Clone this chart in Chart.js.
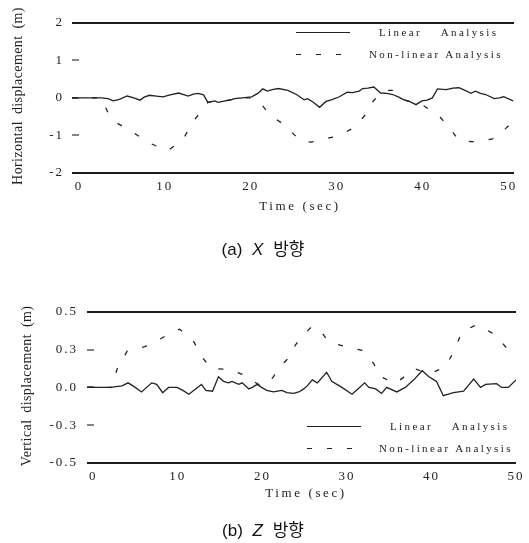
<!DOCTYPE html>
<html lang="ko">
<head>
  <meta charset="UTF-8">
  <title>Displacement</title>
  <script src="https://cdn.jsdelivr.net/npm/chart.js"></script>
  <style>
    body { margin: 0; background: #fff; }
    #wrap { position: relative; width: 529px; height: 543px; color: #222; font-family: 'Liberation Serif', serif; }
    .box { position: absolute; left: 0; width: 529px; }
    .ytitle { position: absolute; font-size: 14px; white-space: nowrap; transform: translate(-50%, -50%) rotate(-90deg); letter-spacing: 0.4px; word-spacing: 3px; }
    .xtitle { position: absolute; font-size: 13px; white-space: nowrap; transform: translate(-50%, -50%); letter-spacing: 2.6px; }
    .leg { position: absolute; font-size: 11px; white-space: nowrap; letter-spacing: 2.4px; transform: translateY(-50%); }
    .solid { position: absolute; height: 0; border-top: 1.4px solid #222; }
    .dash { position: absolute; height: 1.4px; background: repeating-linear-gradient(to right, #222 0 5px, transparent 5px 20px); }
    .cap { position: absolute; left: 263px; transform: translate(-50%, -50%); font-family: 'Liberation Sans', 'Noto Sans CJK KR', sans-serif; font-size: 17px; white-space: nowrap; word-spacing: 5px; color: #111; }
  </style>
</head>
<body>
  <div id="wrap">
    <div class="box" style="top:0;height:220px"><canvas id="chartX"></canvas></div>
    <div class="box" style="top:288px;height:222px"><canvas id="chartZ"></canvas></div>

    <div class="ytitle" style="left:18px;top:96px">Horizontal displacement (m)</div>
    <div class="xtitle" style="left:300px;top:206px">Time (sec)</div>
    <div class="ytitle" style="left:27px;top:386px">Vertical displacement (m)</div>
    <div class="xtitle" style="left:306px;top:493px">Time (sec)</div>

    <div class="solid" style="left:296px;top:32px;width:54px"></div>
    <div class="leg" style="left:379px;top:32px;word-spacing:14px">Linear Analysis</div>
    <div class="dash" style="left:296px;top:54px;width:50px"></div>
    <div class="leg" style="left:369px;top:54px">Non-linear Analysis</div>

    <div class="solid" style="left:307px;top:426px;width:54px"></div>
    <div class="leg" style="left:390px;top:426px;word-spacing:14px">Linear Analysis</div>
    <div class="dash" style="left:307px;top:448px;width:50px"></div>
    <div class="leg" style="left:379px;top:448px">Non-linear Analysis</div>

    <div class="cap" style="top:247px">(a) <i>X</i> 방향</div>
    <div class="cap" style="top:528px">(b) <i>Z</i> 방향</div>
  </div>

  <script>
    // x ticks (time, sec)
    const timeTicks = [0, 10, 20, 30, 40, 50];

    // (a) X direction
    const yTicksX = [2, 1, 0, -1, -2];
    const yLabelsX = ['2', '1', '0', '-1', '-2'];
    const tLinX = [-0.8, 2.6, 3.4, 4.0, 4.8, 5.6, 6.4, 7.1, 7.6, 8.2, 9.0, 9.8, 10.6, 11.6, 12.2, 12.7, 13.3, 13.9, 14.5, 15.0, 15.8, 16.2, 17.0, 17.6, 18.1, 19.0, 20.1, 20.8, 21.4, 21.9, 22.5, 23.2, 24.3, 25.3, 26.2, 26.6, 27.3, 28.0, 28.7, 29.5, 30.3, 31.2, 31.8, 32.6, 33.0, 33.6, 34.3, 35.1, 35.8, 36.5, 37.2, 37.8, 38.5, 39.2, 39.9, 40.5, 41.1, 41.7, 42.7, 43.5, 44.2, 44.9, 45.6, 46.1, 46.7, 47.3, 48.3, 48.9, 49.4, 50.5];
    const linX = [0, 0, -0.02, -0.08, -0.03, 0.05, 0.0, -0.06, 0.02, 0.07, 0.05, 0.03, 0.08, 0.13, 0.09, 0.05, 0.1, 0.12, 0.08, -0.12, -0.08, -0.12, -0.08, -0.06, -0.02, 0.0, 0.03, 0.12, 0.24, 0.18, 0.22, 0.25, 0.2, 0.09, -0.05, -0.02, -0.12, -0.25, -0.1, -0.04, 0.03, 0.15, 0.14, 0.18, 0.25, 0.26, 0.29, 0.13, 0.12, 0.09, 0.02, -0.05, -0.1, -0.18, -0.08, -0.06, 0.0, 0.24, 0.22, 0.26, 0.27, 0.2, 0.12, 0.18, 0.12, 0.09, -0.02, 0.0, 0.03, -0.08];
    const tNlX = [-0.8, 2.6, 3.4, 4.2, 6.1, 8.1, 9.2, 10.3, 12.1, 13.3, 14.3, 15.0, 15.8, 16.2, 17.0, 18.1, 19.0, 20.1, 21.0, 21.6, 22.2, 23.9, 25.8, 27.0, 28.0, 30.3, 32.0, 33.6, 34.1, 35.0, 35.7, 36.5, 37.2, 37.8, 38.5, 39.2, 40.1, 41.9, 43.4, 44.2, 46.3, 48.3, 50.0];
    const nlX = [0, 0, -0.4, -0.64, -0.89, -1.19, -1.3, -1.41, -1.11, -0.62, -0.34, -0.12, -0.08, -0.12, -0.08, -0.02, 0.0, 0.0, -0.1, -0.28, -0.45, -0.72, -1.15, -1.18, -1.13, -1.0, -0.79, -0.38, -0.12, 0.1, 0.2, 0.2, 0.05, -0.05, -0.1, -0.15, -0.21, -0.48, -0.89, -1.13, -1.18, -1.08, -0.74];

    // (b) Z direction
    const yTicksZ = [0.5, 0.25, 0, -0.25, -0.5];
    const yLabelsZ = ['0.5', '0.3', '0.0', '-0.3', '-0.5'];
    const tLinZ = [-0.75, 2.0, 3.4, 4.1, 4.7, 5.7, 6.9, 7.5, 8.2, 8.9, 9.9, 10.6, 11.3, 12.1, 12.8, 13.3, 14.1, 14.8, 15.4, 16.0, 16.4, 17.2, 17.6, 18.4, 18.8, 19.4, 19.9, 20.5, 21.3, 22.3, 22.9, 23.7, 24.3, 24.9, 25.3, 25.9, 26.5, 27.6, 28.2, 29.4, 30.6, 31.2, 32.1, 32.6, 33.4, 34.1, 34.7, 35.9, 36.9, 37.9, 38.9, 39.7, 40.3, 40.6, 41.4, 42.6, 43.8, 45.0, 45.8, 46.4, 47.7, 48.3, 49.1, 50.0];
    const linZ = [0, 0, 0.01, 0.03, 0.01, -0.03, 0.03, 0.02, -0.035, 0.0, 0.0, -0.02, -0.045, -0.01, 0.02, -0.02, -0.025, 0.07, 0.04, 0.03, 0.04, 0.02, 0.03, -0.01, 0.0, 0.02, 0.0, -0.02, -0.03, -0.02, -0.035, -0.04, -0.03, -0.01, 0.01, 0.05, 0.03, 0.1, 0.04, 0.0, -0.045, -0.015, 0.03, 0.0, -0.01, -0.04, 0.0, -0.03, 0.0, 0.05, 0.11, 0.07, 0.05, 0.04, -0.055, -0.035, -0.025, 0.055, 0.0, 0.02, 0.025, 0.0, 0.0, 0.05];
    const tNlZ = [-0.75, 2.2, 2.8, 4.0, 6.1, 7.9, 9.5, 10.2, 11.7, 13.0, 14.0, 16.0, 17.9, 19.5, 20.5, 21.3, 21.9, 23.4, 23.9, 24.9, 25.9, 27.2, 27.8, 29.8, 31.8, 33.2, 33.7, 35.7, 37.5, 37.9, 39.8, 41.6, 42.7, 43.6, 45.4, 47.5, 48.9, 50.0];
    const nlZ = [0, 0, 0.12, 0.24, 0.27, 0.32, 0.37, 0.385, 0.32, 0.19, 0.124, 0.12, 0.08, 0.02, 0.02, 0.07, 0.13, 0.21, 0.28, 0.35, 0.405, 0.35, 0.3, 0.27, 0.245, 0.156, 0.08, 0.025, 0.1, 0.125, 0.09, 0.135, 0.24, 0.37, 0.415, 0.35, 0.26, 0.2];

    const ink = '#222';
    const tickFont = { family: "'Liberation Serif', serif", size: 13 };

    const spacing = {
      id: 'spacing',
      beforeDraw(chart) { chart.ctx.letterSpacing = '2px'; }
    };

    function pts(ts, vs) {
      return ts.map((t, i) => ({ x: t, y: vs[i] }));
    }

    function makeChart(id, o) {
      const ymin = Math.min(...o.yTicks), ymax = Math.max(...o.yTicks);
      return new Chart(document.getElementById(id), {
        type: 'line',
        data: {
          datasets: [
            { label: 'Linear Analysis', data: pts(o.tLin, o.lin), borderColor: ink, borderWidth: 1.3, pointRadius: 0, tension: 0 },
            { label: 'Non-linear Analysis', data: pts(o.tNl, o.nl), borderColor: ink, borderWidth: 1.3, borderDash: [5, 15], pointRadius: 0, tension: 0 }
          ]
        },
        options: {
          responsive: true,
          maintainAspectRatio: false,
          animation: false,
          events: [],
          layout: { padding: { top: 18, right: o.padRight, left: 0, bottom: 0 } },
          plugins: { legend: { display: false }, tooltip: { enabled: false } },
          scales: {
            x: {
              type: 'linear',
              min: o.xmin,
              max: o.xmax,
              afterBuildTicks: s => { s.ticks = timeTicks.map(v => ({ value: v })); },
              afterFit: s => { s.height = 47; },
              grid: { display: false, drawTicks: false },
              border: { display: false },
              ticks: { color: ink, font: tickFont, padding: 6, maxRotation: 0, callback: v => String(v) }
            },
            y: {
              min: ymin,
              max: ymax,
              afterBuildTicks: s => { s.ticks = o.yTicks.slice().reverse().map(v => ({ value: v })); },
              afterFit: s => { s.width = o.yWidth; },
              border: { display: false },
              grid: {
                color: c => (c.tick && Math.abs(c.tick.value) === ymax) ? '#1c1c1c' : 'rgba(0,0,0,0)',
                lineWidth: 2,
                drawTicks: true,
                tickLength: -7,
                tickWidth: 1.2,
                tickColor: c => (c.tick && Math.abs(c.tick.value) !== ymax) ? '#333' : 'rgba(0,0,0,0)'
              },
              ticks: {
                color: ink,
                font: tickFont,
                padding: o.tickPad,
                callback: v => o.yLabels[o.yTicks.indexOf(v)]
              }
            }
          }
        },
        plugins: [spacing]
      });
    }

    makeChart('chartX', {
      tLin: tLinX, lin: linX, tNl: tNlX, nl: nlX,
      yTicks: yTicksX, yLabels: yLabelsX,
      xmin: -0.8, xmax: 50.6, yWidth: 72, padRight: 15, tickPad: 15
    });

    makeChart('chartZ', {
      tLin: tLinZ, lin: linZ, tNl: tNlZ, nl: nlZ,
      yTicks: yTicksZ, yLabels: yLabelsZ,
      xmin: -0.75, xmax: 50, yWidth: 87, padRight: 13, tickPad: 16
    });
  </script>
</body>
</html>
